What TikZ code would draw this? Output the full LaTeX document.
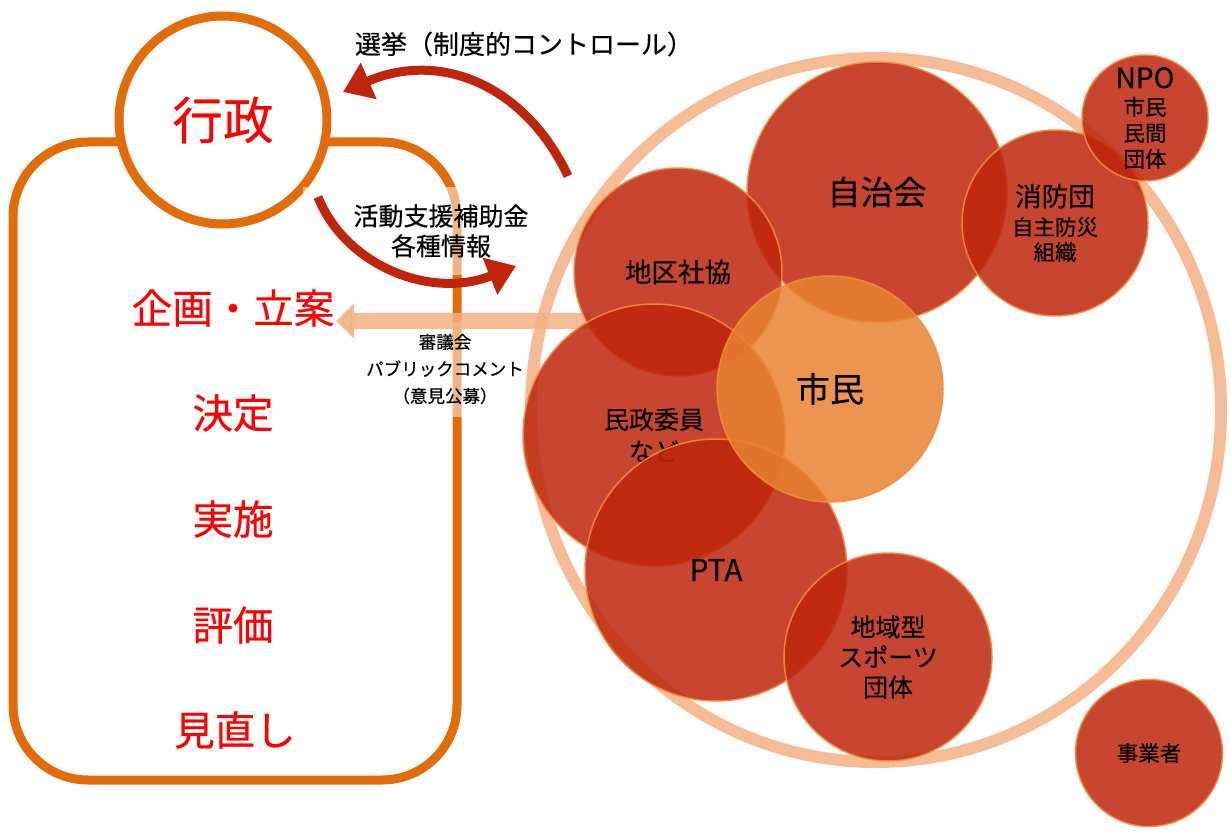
\documentclass[tikz,border=0pt]{standalone}
\usepackage{fontspec}
\setmainfont{Noto Sans CJK JP}[FakeBold=0.4]
\usetikzlibrary{arrows.meta,shapes.geometric}
\definecolor{adminorange}{RGB}{227,108,10}
\definecolor{arrowred}{RGB}{192,36,10}
\definecolor{paleorange}{RGB}{244,176,132}
\definecolor{blobred}{RGB}{190,38,10}
\definecolor{blobedge}{RGB}{242,140,60}
\definecolor{citizen}{RGB}{232,130,50}
\definecolor{stepred}{RGB}{255,0,0}
\begin{document}
\begin{tikzpicture}[x=1pt,y=-1pt,
  cyclebox/.style={draw=adminorange, line width=9pt, rounded corners=75pt, inner sep=0pt},
  steplabel/.style={text=stepred, font=\fontsize{40.5}{40.5}\selectfont, inner sep=0pt},
  notebox/.style={fill=white, fill opacity=0.5, text opacity=1, align=center, inner sep=0pt},
  redarrow/.style={draw=arrowred, line width=9pt, -{Triangle[length=28pt,width=38pt]}},
  palearrow/.style={draw=paleorange, line width=16pt, opacity=0.85, -{Triangle[length=18pt,width=34pt]}},
  blob/.style={circle, inner sep=0pt, fill=blobred, fill opacity=0.85, text opacity=1,
    draw=blobedge, draw opacity=0.9, line width=1.5pt, align=center, text=black},
  citizenblob/.style={blob, fill=citizen},
]
\useasboundingbox (0,0) rectangle (1231,834);

% administration cycle
\node[cyclebox, minimum width=444pt, minimum height=638pt] (cycle) at (235,461) {};
\node[circle, draw=adminorange, line width=9pt, fill=white, minimum size=208pt, inner sep=0pt,
      text=stepred, font=\fontsize{50.5}{50.5}\selectfont] (gyosei) at (223,120) {行政};
\node[steplabel] (plan) at (233,308) {企画・立案};
\node[steplabel] (decide) at (233,413) {決定};
\node[steplabel] (implement) at (233,519) {実施};
\node[steplabel] (evaluate) at (233,625) {評価};
\node[steplabel] (review) at (235,730) {見直し};

% labels
\node[notebox, minimum width=276pt, minimum height=88pt, font=\fontsize{25}{30}\selectfont]
  (shien) at (441,231) {活動支援補助金\\各種情報};
\node[notebox, minimum width=190pt, minimum height=95pt, font=\fontsize{17.5}{27}\selectfont]
  (shingi) at (445,369) {審議会\\パブリックコメント\\（意見公募）};
\node[font=\fontsize{26}{26}\selectfont, inner sep=0pt] (senkyo) at (524,44) {選挙（制度的コントロール）};

% outer ring of the community
\node[ellipse, draw=paleorange, draw opacity=0.85, line width=12pt, minimum width=690pt,
      minimum height=704pt, inner sep=0pt] (ring) at (876,410) {};

% arrows
\coordinate (senkyoTail) at (568,176);
\coordinate (senkyoTip) at (343,92);
\draw[redarrow] (senkyoTail) .. controls (525,85) and (440,50) .. (senkyoTip);
\coordinate (shienTail) at (318,197);
\coordinate (shienTip) at (516,266);
\draw[redarrow] (shienTail) .. controls (345,265) and (430,300) .. (shienTip);
\coordinate (shingiStart) at (590,321);
\coordinate (shingiTip) at (336,321);
\draw[palearrow] (shingiStart) -- (shingiTip);

% community circles
\node[blob, minimum size=260pt, font=\fontsize{33}{33}\selectfont] (jichi) at (877,192) {自治会};
\node[blob, minimum size=186pt, font=\fontsize{21.5}{25}\selectfont] (shobo) at (1055,223)
  {{\fontsize{26.5}{26.5}\selectfont 消防団}\\[4pt]自主防災\\組織};
\node[blob, minimum size=126pt, font=\fontsize{21.5}{26}\selectfont] (npo) at (1145,118)
  {{\fontsize{28}{28}\selectfont NPO}\\[1pt]市民\\民間\\団体};
\node[blob, minimum size=208pt, font=\fontsize{26.5}{26.5}\selectfont] (chiku) at (678,272) {地区社協};
\node[blob, minimum size=262pt, font=\fontsize{25}{32}\selectfont] (minsei) at (654,435) {民政委員\\など};
\node[blob, minimum size=262pt, font=\fontsize{30}{30}\selectfont] (pta) at (716,570) {PTA};
\node[blob, minimum size=208pt, font=\fontsize{25}{30}\selectfont] (sports) at (888,657) {地域型\\スポーツ\\団体};
\node[blob, minimum size=147pt, font=\fontsize{21.5}{21.5}\selectfont] (jigyo) at (1149,753) {事業者};
\node[citizenblob, minimum size=226pt, font=\fontsize{34}{34}\selectfont] (shimin) at (830,389) {市民};
\end{tikzpicture}
\end{document}
